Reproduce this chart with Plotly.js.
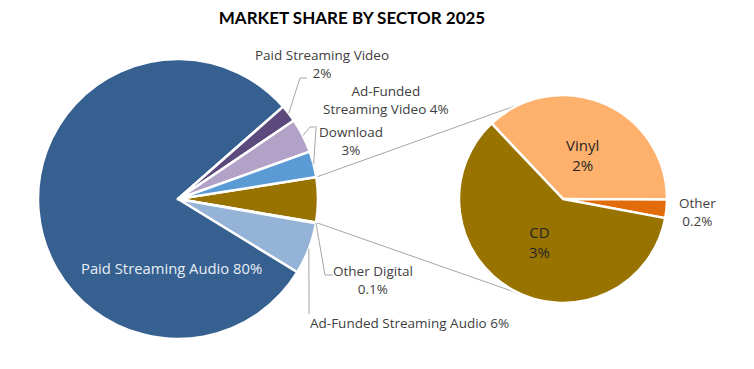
<!DOCTYPE html>
<html><head><meta charset="utf-8">
<script src="https://cdn.plot.ly/plotly-3.0.1.min.js"></script>
<style>html,body{margin:0;padding:0;background:#fff}#chart{width:754px;height:369px}</style>
</head><body><div id="chart"></div>
<script>
// ---------- DATA ----------
const chartTitle = 'MARKET SHARE BY SECTOR 2025';
const physicalLabels = ['Vinyl', 'Other', 'CD'];
const physicalValues = [1.93, 0.15, 3.12];
const physicalPct = ['2%', '0.2%', '3%'];
const physicalTotal = physicalValues.reduce((a, b) => a + b, 0);
const mainLabels = ['Physical', 'Other Digital', 'Ad-Funded Streaming Audio', 'Paid Streaming Audio',
                    'Paid Streaming Video', 'Ad-Funded Streaming Video', 'Download'];
const mainValues = [physicalTotal, 0.1, 6, 80, 2, 4, 3];
const mainPct = ['5%', '0.1%', '6%', '80%', '2%', '4%', '3%'];

// ---------- STYLE / GEOMETRY ----------
const W = 754, H = 369;
const mainColors = ['#997300', '#7f7f7f', '#95b3d7', '#36608f', '#5c4a7c', '#b3a2c7', '#5b9bd5'];
const physColors = ['#fdb16c', '#e36c0a', '#997300'];
const M = {cx: 178, cy: 199, r: 140, rot: 81};
const S = {cx: 563, cy: 199, r: 104, rot: -43.4};
const connectAngle = 113;
const textColor = '#404040';
const FONT = '"Open Sans", Lato, sans-serif';
const FS = 13.5;

const X = px => px / W;
const Y = py => 1 - py / H;
const dom = g => ({x: [X(g.cx - g.r), X(g.cx + g.r)], y: [Y(g.cy + g.r), Y(g.cy - g.r)]});
function sliceAngles(values, rot) {
  const tot = values.reduce((a, b) => a + b, 0);
  let th = 90 - rot; const out = [];
  values.forEach(v => { const s = th; th -= 360 * v / tot; out.push({start: s, end: th, mid: (s + th) / 2}); });
  return out;
}
const pt = (g, deg, f = 1) => [g.cx + g.r * f * Math.cos(deg * Math.PI / 180), g.cy - g.r * f * Math.sin(deg * Math.PI / 180)];
const pathOf = pts => pts.map((p, i) => (i ? 'L' : 'M') + X(p[0]).toFixed(5) + ',' + Y(p[1]).toFixed(5)).join(' ');

const mainAng = sliceAngles(mainValues, M.rot);
const physAng = sliceAngles(physicalValues, S.rot);

// label placement for main pie (label -> layout)
const mainLabelLayout = {
  'Paid Streaming Video':      {mode: 'below',  at: [322, 64],  elbow: [[300, 78], [307, 78]]},
  'Ad-Funded Streaming Video': {mode: 'split',  at: [386, 100], elbow: [[310, 127], [317, 127]]},
  'Download':                  {mode: 'below',  at: [351, 141], elbow: [[316, 128]]},
  'Other Digital':             {mode: 'below',  at: [373, 280], elbow: [[325, 275], [333, 275]]},
  'Ad-Funded Streaming Audio': {mode: 'inline', at: [409, 323], elbow: [[309, 314]]},
  'Paid Streaming Audio':      {mode: 'inline', at: [171, 268], color: '#e8eef6', size: 14.8}
};
function fmt(label, pct, mode) {
  if (mode === 'below') return label + '<br>' + pct;
  if (mode === 'split') { const i = label.indexOf(' '); return label.slice(0, i) + '<br>' + label.slice(i + 1) + ' ' + pct; }
  return label + ' ' + pct;
}

const annotations = [], shapes = [];
mainLabels.forEach((lab, i) => {
  const L = mainLabelLayout[lab]; if (!L) return;
  annotations.push({xref: 'paper', yref: 'paper', x: X(L.at[0]), y: Y(L.at[1]), xanchor: 'center', yanchor: 'middle',
    showarrow: false, text: fmt(lab, mainPct[i], L.mode), font: {family: FONT, size: L.size || FS, color: L.color || textColor}});
  if (L.elbow) shapes.push({type: 'path', xref: 'paper', yref: 'paper', path: pathOf([pt(M, mainAng[i].mid)].concat(L.elbow)),
    line: {color: '#a6a6a6', width: 1}});
});
// physical pie labels
const physLabelLayout = {
  'Vinyl': {f: 0.46}, 'CD': {f: 0.47}, 'Other': {at: [697, 212]}
};
physicalLabels.forEach((lab, i) => {
  const L = physLabelLayout[lab];
  const p = L.at || pt(S, physAng[i].mid, L.f);
  annotations.push({xref: 'paper', yref: 'paper', x: X(p[0]), y: Y(p[1]), xanchor: 'center', yanchor: 'middle',
    showarrow: false, text: lab + '<br>' + physicalPct[i], font: {family: FONT, size: L.at ? FS : FS + 1.5, color: L.at ? textColor : '#262626'}});
});
// connector lines between pies
const phys = mainAng[0];
shapes.push({type: 'path', xref: 'paper', yref: 'paper', layer: 'below', path: pathOf([pt(M, phys.start), pt(S, connectAngle)]), line: {color: '#a6a6a6', width: 1}});
shapes.push({type: 'path', xref: 'paper', yref: 'paper', layer: 'below', path: pathOf([pt(M, phys.end), pt(S, -connectAngle)]), line: {color: '#a6a6a6', width: 1}});

const traces = [
  {type: 'pie', labels: mainLabels, values: mainValues, sort: false, direction: 'clockwise', rotation: M.rot,
   domain: dom(M), marker: {colors: mainColors, line: {color: '#ffffff', width: 2.5}}, textinfo: 'none', hoverinfo: 'label+percent', showlegend: false},
  {type: 'pie', labels: physicalLabels, values: physicalValues, sort: false, direction: 'clockwise', rotation: S.rot,
   domain: dom(S), marker: {colors: physColors, line: {color: '#ffffff', width: 2.5}}, textinfo: 'none', hoverinfo: 'label+percent', showlegend: false}
];
const layout = {
  width: W, height: H, margin: {l: 0, r: 0, t: 0, b: 0}, paper_bgcolor: '#ffffff', showlegend: false,
  title: {text: '<b>' + chartTitle + '</b>', x: 352 / W, xref: 'container', xanchor: 'center', y: 1 - 18 / H, yref: 'container', yanchor: 'middle',
          font: {family: 'Lato, "Liberation Sans", sans-serif', size: 17, color: '#000000'}},
  annotations, shapes
};
Plotly.newPlot('chart', traces, layout, {displayModeBar: false, staticPlot: true});
</script></body></html>
